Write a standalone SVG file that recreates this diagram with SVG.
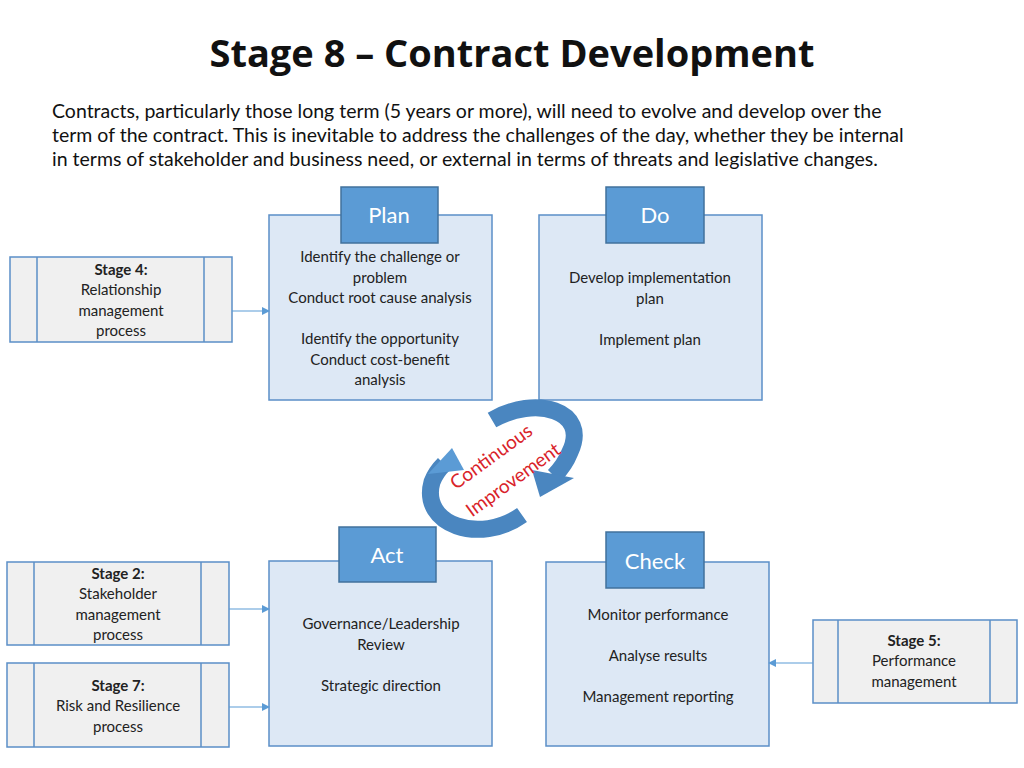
<svg xmlns="http://www.w3.org/2000/svg" width="1024" height="768" viewBox="0 0 1024 768">
<defs>
<style>
.box{fill:#dde8f5;stroke:#5b8fc7;stroke-width:1.5}
.tab{fill:#5b9bd5;stroke:#41719c;stroke-width:1.5}
.tabt{font-family:Lato,"Open Sans",sans-serif;font-size:22px;fill:#fff;text-anchor:middle}
.bt{font-family:Lato,"Open Sans",sans-serif;font-size:15px;fill:#222;text-anchor:middle}
.sb{fill:#f0f0f0;stroke:#5b8fc7;stroke-width:1.5}
.sl{stroke:#5b8fc7;stroke-width:1.5}
.con{stroke:#5b9bd5;stroke-width:1.2;fill:none;marker-end:url(#ah)}
.arc{fill:none;stroke:#4a86c0;stroke-width:17}
</style>
<marker id="ah" markerWidth="8" markerHeight="8" refX="7" refY="4" orient="auto" markerUnits="userSpaceOnUse"><path d="M0,0 L8,4 L0,8 z" fill="#5b9bd5"/></marker>
</defs>
<rect width="1024" height="768" fill="#fff"/>
<text x="512" y="67" font-family="'Open Sans',sans-serif" font-weight="bold" font-size="38" text-anchor="middle" fill="#111">Stage 8 – Contract Development</text>
<g font-family="Lato,'Open Sans',sans-serif" font-size="19.5" fill="#111">
<text x="52" y="118">Contracts, particularly those long term (5 years or more), will need to evolve and develop over the</text>
<text x="52" y="142">term of the contract. This is inevitable to address the challenges of the day, whether they be internal</text>
<text x="52" y="166">in terms of stakeholder and business need, or external in terms of threats and legislative changes.</text>
</g>
<g id="plan"><rect class="box" x="269" y="215" width="223" height="185"/><rect class="tab" x="341" y="187" width="97" height="56"/><text class="tabt" x="389" y="223">Plan</text>
<text class="bt" x="380" y="262">Identify the challenge or</text><text class="bt" x="380" y="283">problem</text><text class="bt" x="380" y="303">Conduct root cause analysis</text><text class="bt" x="380" y="344">Identify the opportunity</text><text class="bt" x="380" y="365">Conduct cost-benefit</text><text class="bt" x="380" y="385">analysis</text></g>
<g id="do"><rect class="box" x="539" y="215" width="223" height="185"/><rect class="tab" x="606" y="187" width="98" height="56"/><text class="tabt" x="655" y="223">Do</text>
<text class="bt" x="650" y="283">Develop implementation</text><text class="bt" x="650" y="304">plan</text><text class="bt" x="650" y="345">Implement plan</text></g>
<g id="act"><rect class="box" x="269" y="561" width="223" height="185"/><rect class="tab" x="339" y="527" width="97" height="55"/><text class="tabt" x="387" y="563">Act</text>
<text class="bt" x="381" y="629">Governance/Leadership</text><text class="bt" x="381" y="650">Review</text><text class="bt" x="381" y="691">Strategic direction</text></g>
<g id="check"><rect class="box" x="546" y="562" width="223" height="184"/><rect class="tab" x="606" y="532" width="98" height="56"/><text class="tabt" x="655" y="569">Check</text>
<text class="bt" x="658" y="620">Monitor performance</text><text class="bt" x="658" y="661">Analyse results</text><text class="bt" x="658" y="702">Management reporting</text></g>
<g id="stage4"><rect class="sb" x="10" y="257" width="222" height="85"/><line class="sl" x1="37" y1="257" x2="37" y2="342"/><line class="sl" x1="204" y1="257" x2="204" y2="342"/>
<text class="bt" x="121" y="275" font-weight="bold">Stage 4:</text><text class="bt" x="121" y="295">Relationship</text><text class="bt" x="121" y="316">management</text><text class="bt" x="121" y="336">process</text></g>
<g id="stage2"><rect class="sb" x="7" y="562" width="222" height="83"/><line class="sl" x1="34" y1="562" x2="34" y2="645"/><line class="sl" x1="201" y1="562" x2="201" y2="645"/>
<text class="bt" x="118" y="579" font-weight="bold">Stage 2:</text><text class="bt" x="118" y="599">Stakeholder</text><text class="bt" x="118" y="620">management</text><text class="bt" x="118" y="640">process</text></g>
<g id="stage7"><rect class="sb" x="7" y="663" width="222" height="84"/><line class="sl" x1="34" y1="663" x2="34" y2="747"/><line class="sl" x1="201" y1="663" x2="201" y2="747"/>
<text class="bt" x="118" y="691" font-weight="bold">Stage 7:</text><text class="bt" x="118" y="711">Risk and Resilience</text><text class="bt" x="118" y="732">process</text></g>
<g id="stage5"><rect class="sb" x="813" y="620" width="204" height="83"/><line class="sl" x1="838" y1="620" x2="838" y2="703"/><line class="sl" x1="990" y1="620" x2="990" y2="703"/>
<text class="bt" x="914" y="646" font-weight="bold">Stage 5:</text><text class="bt" x="914" y="666">Performance</text><text class="bt" x="914" y="687">management</text></g>
<g id="connectors">
<line class="con" x1="232" y1="311" x2="269" y2="311"/>
<line class="con" x1="229" y1="609" x2="269" y2="609"/>
<line class="con" x1="229" y1="707" x2="269" y2="707"/>
<line class="con" x1="813" y1="663" x2="769" y2="663"/>
</g>
<g id="cycle">
<path class="arc" d="M492,420 C535,395 590,410 570,452 C566,462 560,470 554,476"/>
<polygon points="532,470 574,478 540,497" fill="#4a86c0"/>
<path class="arc" d="M522,515 C480,545 420,525 432,482 C435,474 440,468 444,464"/>
<polygon points="428,474 464,470 452,448" fill="#5b9bd5"/>
<g font-family="Lato,'Open Sans',sans-serif" font-size="19" fill="#d9232a" text-anchor="middle">
<text transform="translate(495,462) rotate(-36)">Continuous</text>
<text transform="translate(517,485) rotate(-36)">Improvement</text>
</g>
</g>
</svg>
